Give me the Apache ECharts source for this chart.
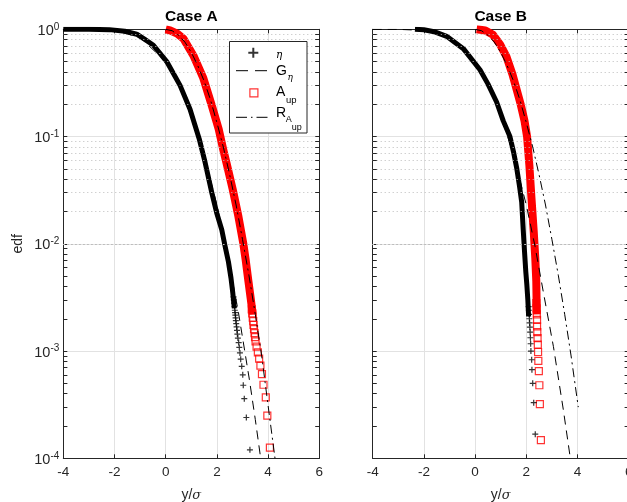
<!DOCTYPE html>
<html><head><meta charset="utf-8">
<script src="https://cdn.jsdelivr.net/npm/echarts@6/dist/echarts.min.js"></script>
<style>html,body{margin:0;padding:0;background:#fff}#c{width:627px;height:502px}</style>
</head><body><div id="c"></div>
<script>
// ---------- data ----------
const titles = ['Case A', 'Case B'];
const xTicks = [-4, -2, 0, 2, 4, 6];
const yDecades = [1e-4, 1e-3, 1e-2, 1e-1, 1];
const minorY = [2e-4,3e-4,4e-4,5e-4,6e-4,7e-4,8e-4,9e-4,
                2e-3,3e-3,4e-3,5e-3,6e-3,7e-3,8e-3,9e-3,
                2e-2,3e-2,4e-2,5e-2,6e-2,7e-2,8e-2,9e-2,
                0.2,0.3,0.4,0.5,0.6,0.7,0.8,0.9];

// Case A
const etaBandA = [[-4,1],[-3,0.9995],[-2.2,0.993],[-1.6,0.96],[-1.13,0.9],[-0.8,0.8],[-0.48,0.71],[0.04,0.5],[0.56,0.3],[0.95,0.18],[1.31,0.095],[1.535,0.058],[1.8,0.03],[1.99,0.0195],[2.19,0.0135],[2.32,0.0095],[2.45,0.0068],[2.55,0.0048],[2.62,0.0035],[2.68,0.0025]];
const etaTailA = [[3.29,1.2e-4],[3.15,2.4e-4],[3.07,3.6e-4],[3.03,4.8e-4],[3.01,6.0e-4],[2.97,7.2e-4],[2.93,8.4e-4],[2.9,9.6e-4],[2.875,1.08e-3],[2.85,1.2e-3],[2.82,1.32e-3],[2.8,1.44e-3],[2.785,1.56e-3],[2.77,1.68e-3],[2.755,1.8e-3],[2.74,1.92e-3],[2.73,2.04e-3],[2.72,2.16e-3],[2.71,2.28e-3],[2.7,2.4e-3],[2.69,2.6e-3],[2.67,2.8e-3],[2.66,3.0e-3],[2.65,3.2e-3]];
const aupBandA = [[0,1],[0.17,0.977],[0.45,0.91],[0.69,0.82],[1.08,0.57],[1.47,0.35],[1.8,0.195],[2.07,0.117],[2.25,0.075],[2.38,0.056],[2.62,0.032],[2.84,0.018],[3.03,0.0101],[3.12,0.0072],[3.23,0.0045],[3.32,0.0031],[3.4,0.0022]];
const aupTailA = [[4.07,1.26e-4],[3.97,2.5e-4],[3.91,3.7e-4],[3.82,4.85e-4],[3.76,6.1e-4],[3.7,7.3e-4],[3.65,8.5e-4],[3.6,9.7e-4],[3.55,1.1e-3],[3.51,1.23e-3],[3.49,1.35e-3],[3.47,1.47e-3],[3.45,1.6e-3],[3.43,1.75e-3],[3.42,1.9e-3],[3.4,2.05e-3],[3.38,2.25e-3],[3.36,2.45e-3]];
const gEtaA = [[-4,1],[-3,0.9987],[-2,0.977],[-1,0.84],[0,0.5],[0.5,0.31],[1,0.16],[1.5,0.067],[2,0.023],[2.5,0.0062],[2.84,0.0023],[3.27,5.4e-4],[3.5,2.3e-4],[3.71,1.0e-4]];
const rAupA = [[0,1],[0.25,0.97],[0.5,0.88],[0.75,0.76],[1,0.61],[1.25,0.46],[1.5,0.33],[1.75,0.22],[2,0.135],[2.25,0.08],[2.5,0.044],[2.75,0.023],[3,0.011],[3.25,0.0051],[3.5,0.0022],[3.75,9e-4],[4,3.1e-4],[4.27,1e-4]];

// Case B
const etaBandB = [[-2.35,1],[-2.0,0.99],[-1.6,0.95],[-1.11,0.86],[-0.46,0.66],[0.19,0.42],[0.5,0.31],[0.84,0.21],[1.1,0.14],[1.36,0.1],[1.5,0.072],[1.63,0.05],[1.73,0.035],[1.82,0.0245],[1.88,0.0135],[1.93,0.0085],[1.98,0.0055],[2.02,0.0042],[2.06,0.003],[2.09,0.0021]];
const etaTailB = [[2.35,1.68e-4],[2.29,3.3e-4],[2.25,5.0e-4],[2.22,6.7e-4],[2.21,8.3e-4],[2.18,1.0e-3],[2.17,1.17e-3],[2.16,1.33e-3],[2.15,1.5e-3],[2.14,1.67e-3],[2.13,1.83e-3],[2.12,2.0e-3],[2.11,2.2e-3],[2.1,2.4e-3],[2.09,2.6e-3]];
const aupBandB = [[0.06,1],[0.4,0.975],[0.7,0.89],[0.98,0.72],[1.22,0.56],[1.46,0.38],[1.63,0.27],[1.78,0.2],[1.93,0.14],[2.03,0.1],[2.12,0.054],[2.2,0.027],[2.29,0.013],[2.35,0.0074],[2.39,0.0045],[2.41,0.0022]];
const aupTailB = [[2.57,1.48e-4],[2.53,3.2e-4],[2.51,4.8e-4],[2.49,6.5e-4],[2.47,8.1e-4],[2.46,9.8e-4],[2.45,1.15e-3],[2.44,1.32e-3],[2.43,1.5e-3],[2.42,1.7e-3],[2.42,1.95e-3],[2.41,2.2e-3],[2.4,2.5e-3],[2.39,2.8e-3]];
const gEtaB = [[-4,1],[-3,0.9987],[-2,0.977],[-1,0.84],[0,0.5],[0.5,0.31],[1,0.16],[1.5,0.067],[2,0.023],[2.34,0.0095],[2.67,0.0035],[3.06,1.1e-3],[3.45,2.8e-4],[3.72,1.0e-4]];
const rAupB = [[0,1],[0.25,0.97],[0.5,0.88],[0.75,0.76],[1,0.61],[1.25,0.46],[1.5,0.33],[1.75,0.22],[2,0.135],[2.25,0.08],[2.5,0.044],[2.75,0.023],[3,0.011],[3.25,0.0051],[3.5,0.0022],[3.75,9e-4],[4.03,3.0e-4]];

// legend label parts: [text, size, italic, dx, dy]
const legendText = [
  {name: 'η',    parts: [['η', 10.5, true, 276, 55]]},
  {name: 'Gη',   parts: [['G', 14, false, 276, 70.7], ['η', 9, true, 287.5, 77.7]]},
  {name: 'Aup',  parts: [['A', 14, false, 276, 91.7], ['up', 9.5, false, 286, 100]]},
  {name: 'RAup', parts: [['R', 14, false, 276, 113.3], ['A', 9, false, 285.7, 120], ['up', 9, false, 291.7, 127.3]]}
];

// ---------- styling ----------
const FONT = 'Liberation Sans';
const AX = '#262626';
const plusPath = 'path://M-0.2,-1H0.2V-0.2H1V0.2H0.2V1H-0.2V0.2H-1V-0.2H-0.2Z';
const DASH = [9, 6];
const DASHDOT = [9, 4, 2, 4];
const chart = echarts.init(document.getElementById('c'), null, {renderer: 'canvas'});

const grids = [
  {left: 63.3, top: 29.3, width: 256, height: 429, containLabel: false, outerBoundsMode: 'none'},
  {left: 372.7, top: 29.3, width: 256, height: 429, containLabel: false, outerBoundsMode: 'none'}
];

function minorMarks(xmin, xmax) {
  const t = 0.16;
  const d = [];
  minorY.forEach(v => {
    d.push({yAxis: v, lineStyle: {color: '#bcbcbc', type: [1, 3], width: 1}});
    d.push([{coord: [xmin, v], lineStyle: {color: AX, type: 'solid', width: 1}}, {coord: [xmin + t, v]}]);
    d.push([{coord: [xmax - t, v], lineStyle: {color: AX, type: 'solid', width: 1}}, {coord: [xmax, v]}]);
  });
  return {silent: true, symbol: ['none', 'none'], label: {show: false}, animation: false, data: d};
}

const xAxes = [], yAxes = [];
[0, 1].forEach(i => {
  xAxes.push({
    gridIndex: i, type: 'value', min: xTicks[0], max: xTicks[xTicks.length - 1], interval: 2,
    position: 'bottom',
    axisLine: {show: true, onZero: false, lineStyle: {color: AX, width: 1}},
    axisTick: {show: true, inside: true, length: 4, lineStyle: {color: AX}},
    axisLabel: {color: AX, fontFamily: FONT, fontSize: 13.5, margin: 7, showMaxLabel: true, showMinLabel: true},
    splitLine: {show: true, lineStyle: {color: '#e2e2e2', width: 1}},
    name: '{a|y/}{g|σ}', nameLocation: 'middle', nameGap: 30,
    nameTextStyle: {rich: {a: {fontFamily: FONT, fontSize: 14, color: AX}, g: {fontFamily: 'DejaVu Serif', fontStyle: 'italic', fontSize: 13, color: AX}}}
  });
  xAxes.push({
    gridIndex: i, type: 'value', min: xTicks[0], max: xTicks[xTicks.length - 1], interval: 2,
    position: 'top',
    axisLine: {show: true, onZero: false, lineStyle: {color: AX, width: 1}},
    axisTick: {show: true, inside: true, length: 4, lineStyle: {color: AX}},
    axisLabel: {show: false}, splitLine: {show: false}
  });
  yAxes.push({
    gridIndex: i, type: 'log', logBase: 10, min: yDecades[0], max: yDecades[yDecades.length - 1], interval: 1,
    position: 'left',
    axisLine: {show: true, onZero: false, lineStyle: {color: AX, width: 1}},
    axisTick: {show: true, inside: true, length: 4, lineStyle: {color: AX}},
    axisLabel: {
      show: i === 0, margin: 4,
      formatter: v => '{b|10}{e|' + Math.round(Math.log10(v)) + '}',
      rich: {
        b: {fontFamily: FONT, fontSize: 14.5, color: AX, padding: [3, 0, 0, 0]},
        e: {fontFamily: FONT, fontSize: 10, color: AX, padding: [0, 0, 5, 0]}
      }
    },
    splitLine: {show: true, lineStyle: {color: '#e2e2e2', width: 1}},
    name: i === 0 ? 'edf' : '', nameLocation: 'middle', nameGap: 38,
    nameTextStyle: {fontFamily: FONT, fontSize: 14, color: AX}
  });
  yAxes.push({
    gridIndex: i, type: 'log', logBase: 10, min: yDecades[0], max: yDecades[yDecades.length - 1], interval: 1,
    position: 'right',
    axisLine: {show: true, onZero: false, lineStyle: {color: AX, width: 1}},
    axisTick: {show: true, inside: true, length: 4, lineStyle: {color: AX}},
    axisLabel: {show: false}, splitLine: {show: false}
  });
});

function panelSeries(i, sfx, etaBand, etaTail, aupBand, aupTail, gEta, rAup) {
  const ax = {xAxisIndex: 2 * i, yAxisIndex: 2 * i};
  return [
    Object.assign({type: 'line', name: 'band' + sfx, data: aupBand, symbol: 'none', z: 2,
      lineStyle: {color: '#ff0000', width: 8, cap: 'butt', join: 'round'}, silent: true,
      markLine: minorMarks(xTicks[0], xTicks[xTicks.length - 1])}, ax),
    Object.assign({type: 'line', name: 'eband' + sfx, data: etaBand, symbol: 'none', z: 3,
      lineStyle: {color: '#000', width: 5, cap: 'butt', join: 'round'}, silent: true}, ax),
    Object.assign({type: 'scatter', name: 'Aup' + sfx, data: aupTail, symbol: 'rect', symbolSize: 7, z: 3,
      itemStyle: {color: 'rgba(0,0,0,0)', borderColor: '#ff0000', borderWidth: 1.2}}, ax),
    Object.assign({type: 'scatter', name: 'η' + sfx, data: etaTail, symbol: plusPath, symbolSize: 6, symbolKeepAspect: true, z: 4,
      itemStyle: {color: '#000'}}, ax),
    Object.assign({type: 'line', name: 'Gη' + sfx, data: gEta, symbol: 'none', z: 5,
      itemStyle: {color: '#000'}, lineStyle: {color: '#000', width: 1, type: DASH}}, ax),
    Object.assign({type: 'line', name: 'RAup' + sfx, data: rAup, symbol: 'none', z: 5,
      itemStyle: {color: '#000'}, lineStyle: {color: '#000', width: 1, type: DASHDOT}}, ax)
  ];
}

const series = [].concat(
  panelSeries(0, '', etaBandA, etaTailA, aupBandA, aupTailA, gEtaA, rAupA),
  panelSeries(1, ' B', etaBandB, etaTailB, aupBandB, aupTailB, gEtaB, rAupB)
);

function leg(name, left, yc, w, h, extra) {
  return Object.assign({
    data: [name], left: left, top: yc - h / 2, itemWidth: w, itemHeight: h, padding: 0,
    selectedMode: false, z: 10, itemGap: 0,
    formatter: () => '',
    textStyle: {fontSize: 1, lineHeight: 1, padding: 0}
  }, extra || {});
}
const hideSym = {opacity: 0, borderWidth: 0};

const legendGraphics = [
  {type: 'rect', shape: {x: 229.5, y: 41.5, width: 77.5, height: 91.5}, silent: true, z: 6,
   style: {fill: '#fff', stroke: AX, lineWidth: 1}}
];
legendText.forEach(item => {
  item.parts.forEach(p => {
    legendGraphics.push({
      type: 'text', silent: true, z: 12, x: p[3], y: p[4],
      style: {
        text: p[0], fill: '#000', align: 'left', verticalAlign: 'middle',
        fontSize: p[1], fontStyle: p[2] ? 'italic' : 'normal',
        fontFamily: p[2] ? 'DejaVu Serif' : FONT
      }
    });
  });
});

const option = {
  animation: false,
  backgroundColor: '#fff',
  title: [
    {text: titles[0], left: 191.3, top: 9, textAlign: 'center', padding: 0,
     textStyle: {fontFamily: FONT, fontWeight: 'bold', fontSize: 15.5, color: '#000'}},
    {text: titles[1], left: 500.7, top: 9, textAlign: 'center', padding: 0,
     textStyle: {fontFamily: FONT, fontWeight: 'bold', fontSize: 15.5, color: '#000'}}
  ],
  grid: grids,
  xAxis: xAxes,
  yAxis: yAxes,
  legend: [
    leg('η', 248.3, 52.7, 10, 10, {icon: plusPath, itemStyle: {color: '#000'}}),
    leg('Gη', 235.5, 71.7, 35, 10, {itemStyle: hideSym, lineStyle: {color: '#000', width: 1, type: [12, 7]}}),
    leg('Aup', 249.3, 92.3, 8, 8, {icon: 'rect', itemStyle: {color: 'rgba(0,0,0,0)', borderColor: '#ff0000', borderWidth: 1.2}}),
    leg('RAup', 235.5, 118.3, 35, 10, {itemStyle: hideSym, lineStyle: {color: '#000', width: 1, type: [11, 4, 1.5, 4]}})
  ],
  graphic: legendGraphics,
  series: series
};
chart.setOption(option);
</script>
</body></html>
